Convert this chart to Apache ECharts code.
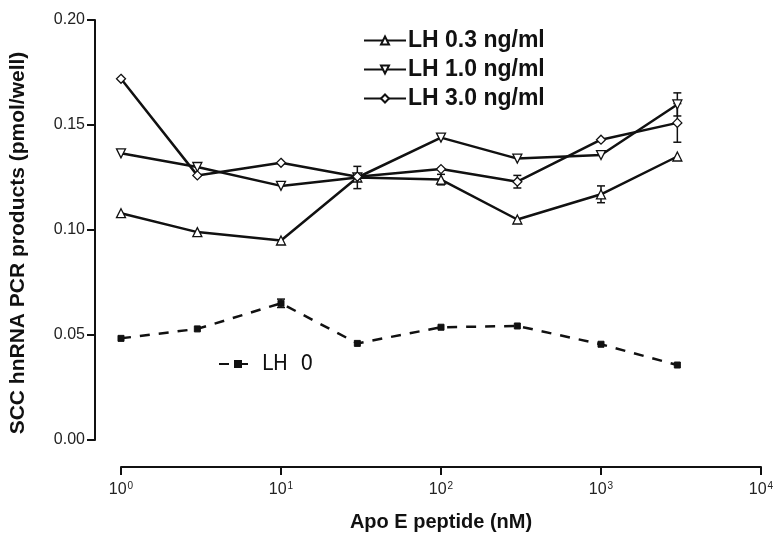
<html>
	<head>
		<meta charset="utf-8" />
		<title>SCC hnRNA</title>
		<script src="https://cdn.jsdelivr.net/npm/echarts@6/dist/echarts.min.js"></script>
		<style>
			html, body {
				margin: 0;
				background: #fff;
			}
			#chart {
				width: 777px;
				height: 533px;
			}
		</style>
	</head>

	<body>
		<div id="chart"></div>
		<script type="text/javascript">
			// Apo E peptide doses (nM)
			var doses = [1, 3, 10, 30, 100, 300, 1000, 3000];
			var xTicks = [1, 10, 100, 1000, 10000];

			var lh03 = [0.108, 0.099, 0.095, 0.125, 0.124, 0.105, 0.117, 0.135];
			var lh10 = [0.1365, 0.130, 0.121, 0.125, 0.144, 0.134, 0.1357, 0.1598];
			var lh30 = [0.172, 0.126, 0.132, 0.1254, 0.129, 0.123, 0.143, 0.151];
			var lh0 = [0.0484, 0.0529, 0.0651, 0.046, 0.0537, 0.0543, 0.0456, 0.0357];

			// error bars (sem), 0 = none drawn
			var err03 = [0, 0, 0, 0.0053, 0.0025, 0, 0.004, 0];
			var err10 = [0, 0, 0, 0, 0, 0, 0, 0.0055];
			var err30 = [0, 0, 0, 0, 0, 0.003, 0, 0.0092];
			var err0 = [0, 0, 0.002, 0, 0, 0, 0, 0];

			function pairs(ys) {
				return doses.map(function(d, i) { return [d, ys[i]]; });
			}

			function errData(ys, es) {
				var out = [];
				for(var i = 0; i < doses.length; i++) {
					if(es[i] > 0) out.push([doses[i], ys[i] - es[i], ys[i] + es[i]]);
				}
				return out;
			}

			function errSeries(ys, es) {
				return {
					type: 'custom',
					silent: true,
					z: 1,
					data: errData(ys, es),
					renderItem: function(params, api) {
						var lo = api.coord([api.value(0), api.value(1)]);
						var hi = api.coord([api.value(0), api.value(2)]);
						var w = 4;
						var st = { stroke: '#111', lineWidth: 1.5 };
						return {
							type: 'group',
							children: [
								{ type: 'line', shape: { x1: lo[0], y1: lo[1], x2: hi[0], y2: hi[1] }, style: st },
								{ type: 'line', shape: { x1: lo[0] - w, y1: lo[1], x2: lo[0] + w, y2: lo[1] }, style: st },
								{ type: 'line', shape: { x1: hi[0] - w, y1: hi[1], x2: hi[0] + w, y2: hi[1] }, style: st }
							]
						};
					}
				};
			}

			var lineCol = '#111';
			var myChart = echarts.init(document.getElementById('chart'));
			var option = {
				animation: false,
				backgroundColor: '#fff',
				grid: {
					left: 121,
					right: 16,
					top: 20,
					bottom: 93,
					outerBoundsMode: 'none'
				},
				legend: [{
						data: ['LH 0.3 ng/ml', 'LH 1.0 ng/ml', 'LH 3.0 ng/ml'],
						orient: 'vertical',
						left: 358,
						top: 24,
						itemGap: 6,
						itemWidth: 42,
						itemHeight: 10,
						textStyle: {
							fontFamily: 'Liberation Sans',
							fontWeight: 'bold',
							fontSize: 23,
							color: '#111',
							padding: [0, 0, 0, -3]
						}
					},
					{
						data: ['LH  0'],
						left: 213,
						top: 348,
						itemWidth: 38,
						itemHeight: 10,
						textStyle: {
							fontFamily: '"DejaVu Sans Condensed", "Liberation Sans", sans-serif',
							fontSize: 22,
							color: '#111'
						}
					}
				],
				xAxis: {
					type: 'log',
					logBase: 10,
					min: 1,
					max: 10000,
					offset: 27,
					name: 'Apo E peptide (nM)',
					nameLocation: 'middle',
					nameGap: 45,
					nameTextStyle: {
						fontFamily: 'Liberation Sans',
						fontWeight: 'bold',
						fontSize: 20,
						color: '#111'
					},
					splitLine: { show: false },
					minorTick: { show: false },
					axisLine: { onZero: false, lineStyle: { color: '#111', width: 2 } },
					axisTick: { length: 8, lineStyle: { color: '#111', width: 2 } },
					axisLabel: {
						margin: 14,
						color: '#222',
						fontFamily: 'Liberation Sans',
						fontSize: 16,
						formatter: function(v) {
							var e = Math.round(Math.log10(v));
							if(xTicks.indexOf(Math.pow(10, e)) < 0) return '';
							return '10{sup|' + e + '}';
						},
						rich: {
							sup: {
								fontSize: 10,
								verticalAlign: 'top',
								padding: [0, 0, 8, 1],
								fontFamily: 'Liberation Sans',
								color: '#222'
							}
						}
					}
				},
				yAxis: {
					type: 'value',
					min: 0,
					max: 0.2,
					interval: 0.05,
					offset: 26,
					name: 'SCC hnRNA PCR products (pmol/well)',
					nameLocation: 'middle',
					nameGap: 66,
					nameTextStyle: {
						fontFamily: 'Liberation Sans',
						fontWeight: 'bold',
						fontSize: 21,
						color: '#111',
						padding: [0, 26, 0, 0]
					},
					splitLine: { show: false },
					axisLine: { show: true, onZero: false, lineStyle: { color: '#111', width: 2 } },
					axisTick: { show: true, length: 8, lineStyle: { color: '#111', width: 2 } },
					axisLabel: {
						margin: 10,
						color: '#222',
						fontFamily: 'Liberation Sans',
						fontSize: 16,
						formatter: function(v) { return v.toFixed(2); }
					}
				},
				series: [
					errSeries(lh03, err03),
					errSeries(lh10, err10),
					errSeries(lh30, err30),
					errSeries(lh0, err0),
					{
						name: 'LH 0.3 ng/ml',
						type: 'line',
						data: pairs(lh03),
						symbol: 'triangle',
						symbolSize: 9,
						itemStyle: { color: '#fff', borderColor: lineCol, borderWidth: 1.3 },
						lineStyle: { color: lineCol, width: 2.5 },
						z: 3
					},
					{
						name: 'LH 1.0 ng/ml',
						type: 'line',
						data: pairs(lh10),
						symbol: 'triangle',
						symbolRotate: 180,
						symbolSize: 9,
						itemStyle: { color: '#fff', borderColor: lineCol, borderWidth: 1.3 },
						lineStyle: { color: lineCol, width: 2.5 },
						z: 3
					},
					{
						name: 'LH 3.0 ng/ml',
						type: 'line',
						data: pairs(lh30),
						symbol: 'diamond',
						symbolSize: 9,
						itemStyle: { color: '#fff', borderColor: lineCol, borderWidth: 1.3 },
						lineStyle: { color: lineCol, width: 2.5 },
						z: 3
					},
					{
						name: 'LH  0',
						type: 'line',
						data: pairs(lh0),
						symbol: 'rect',
						symbolSize: 6,
						itemStyle: { color: lineCol, borderColor: lineCol },
						lineStyle: { color: lineCol, width: 2.5, type: [10, 9] },
						z: 3
					}
				]
			};
			myChart.setOption(option, true);
		</script>
	</body>

</html>
